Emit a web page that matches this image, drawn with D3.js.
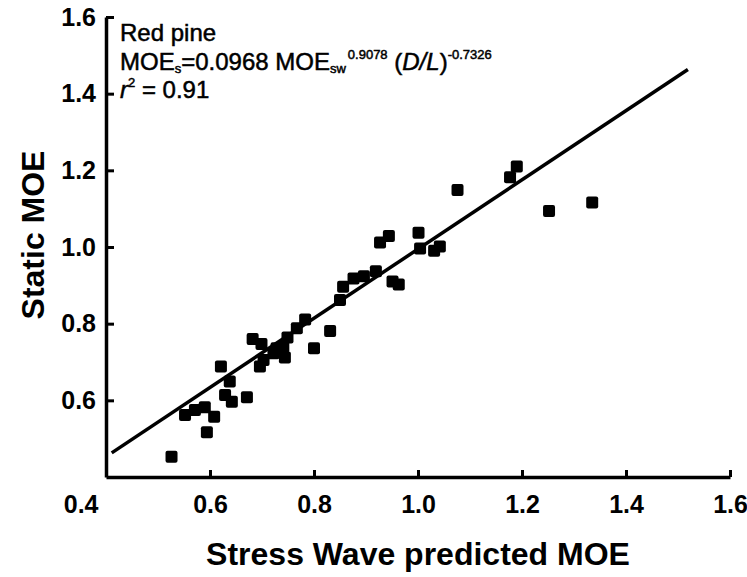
<!DOCTYPE html>
<html>
<head>
<meta charset="utf-8">
<script src="https://cdn.jsdelivr.net/npm/d3@7"></script>
<style>
  body { margin: 0; background: #fff; }
  text { font-family: Arial, "Liberation Sans", sans-serif; fill: #000; }
</style>
</head>
<body>
<div id="chart"></div>
<script>
// stress wave predicted MOE (x) vs static MOE (y), red pine
const swMOE = [0.526, 0.552, 0.571, 0.590, 0.594, 0.608, 0.621, 0.629, 0.638, 0.642,
  0.671, 0.682, 0.696, 0.699, 0.703, 0.722, 0.728, 0.744, 0.741, 0.749,
  0.767, 0.783, 0.800, 0.831, 0.850, 0.856, 0.876, 0.896, 0.919, 0.927,
  0.944, 0.951, 0.963, 1.001, 1.004, 1.031, 1.042, 1.076, 1.177, 1.190,
  1.252, 1.335]
const staticMOE = [0.453, 0.562, 0.575, 0.582, 0.517, 0.557, 0.688, 0.614, 0.649, 0.596,
  0.608, 0.760, 0.688, 0.747, 0.705, 0.723, 0.736, 0.712, 0.740, 0.764,
  0.788, 0.811, 0.736, 0.781, 0.862, 0.896, 0.918, 0.924, 0.937, 1.012,
  1.029, 0.910, 0.902, 1.037, 0.996, 0.990, 1.001, 1.149, 1.182, 1.210,
  1.094, 1.116]

// fitted line end points
const fitX = [0.411, 1.519]
const fitY = [0.463, 1.463]

const xTicks = [0.4, 0.6, 0.8, 1.0, 1.2, 1.4, 1.6]
const yTicks = [0.6, 0.8, 1.0, 1.2, 1.4, 1.6]

const width = 747
const height = 577

const svg = d3
  .select('#chart')
  .append('svg')
  .attr('width', width)
  .attr('height', height)

const xScale = d3.scaleLinear().domain([0.4, 1.6]).range([106, 730])
const yScale = d3.scaleLinear().domain([0.4, 1.6]).range([477, 17])

const fmt = d3.format('.1f')

// x axis
const xAxis = svg
  .append('g')
  .attr('transform', `translate(0, ${yScale(0.4)})`)
  .call(
    d3.axisBottom(xScale)
      .tickValues(xTicks)
      .tickFormat(fmt)
      .tickSizeInner(-7)
      .tickSizeOuter(0)
      .tickPadding(18)
  )

// y axis
const yAxis = svg
  .append('g')
  .attr('transform', `translate(${xScale(0.4)}, 0)`)
  .call(
    d3.axisLeft(yScale)
      .tickValues(yTicks)
      .tickFormat(fmt)
      .tickSizeInner(-8)
      .tickSizeOuter(0)
      .tickPadding(10)
  )

svg.selectAll('.domain').attr('stroke', '#000').attr('stroke-width', 3.5)
svg.selectAll('.tick line').attr('stroke', '#000').attr('stroke-width', 3)
svg.selectAll('.tick text')
  .attr('font-size', 25)
  .attr('font-weight', 'bold')
  .attr('font-family', 'Arial, "Liberation Sans", sans-serif')

// 0.4 label sits left of the corner
xAxis.selectAll('.tick text')
  .filter(d => d === 0.4)
  .attr('text-anchor', 'end')
  .attr('x', -8)

// regression line
const line = d3
  .line()
  .x(d => xScale(d[0]))
  .y(d => yScale(d[1]))

svg
  .append('path')
  .datum(d3.zip(fitX, fitY))
  .attr('d', line)
  .attr('fill', 'none')
  .attr('stroke', '#000')
  .attr('stroke-width', 3.5)

// points
const sq = 12
svg
  .selectAll('rect.pt')
  .data(d3.zip(swMOE, staticMOE))
  .enter()
  .append('rect')
  .attr('class', 'pt')
  .attr('x', d => xScale(d[0]) - sq / 2)
  .attr('y', d => yScale(d[1]) - sq / 2)
  .attr('width', sq)
  .attr('height', sq)
  .attr('rx', 2)
  .attr('fill', '#000')

// axis titles
svg
  .append('text')
  .attr('x', 418)
  .attr('y', 565)
  .attr('text-anchor', 'middle')
  .attr('font-size', 32)
  .attr('font-weight', 'bold')
  .text('Stress Wave predicted MOE')

svg
  .append('text')
  .attr('transform', 'translate(44, 235) rotate(-90)')
  .attr('text-anchor', 'middle')
  .attr('font-size', 32)
  .attr('font-weight', 'bold')
  .text('Static MOE')

// annotation
const note = svg
  .append('g')
  .attr('font-size', 24)
  .attr('stroke', '#000')
  .attr('stroke-width', 0.5)

note.append('text').attr('x', 120).attr('y', 41).text('Red pine')

const eq = note.append('text').attr('x', 120).attr('y', 70)
eq.append('tspan').text('MOE')
eq.append('tspan').attr('font-size', 13).attr('dy', 3).text('s')
eq.append('tspan').attr('dy', -3).text('=0.0968 MOE')
eq.append('tspan').attr('font-size', 13).attr('dy', 3).text('sw')
eq.append('tspan').attr('font-size', 13).attr('dy', -14).attr('dx', 2).text('0.9078')
eq.append('tspan').attr('dy', 11).text(' (')
eq.append('tspan').attr('font-style', 'italic').text('D/L')
eq.append('tspan').text(')')
eq.append('tspan').attr('font-size', 13).attr('dy', -11).text('-0.7326')

const r2 = note.append('text').attr('x', 120).attr('y', 98)
r2.append('tspan').attr('font-style', 'italic').text('r')
r2.append('tspan').attr('font-size', 13).attr('dy', -11).text('2')
r2.append('tspan').attr('dy', 11).text(' = 0.91')
</script>
</body>
</html>
